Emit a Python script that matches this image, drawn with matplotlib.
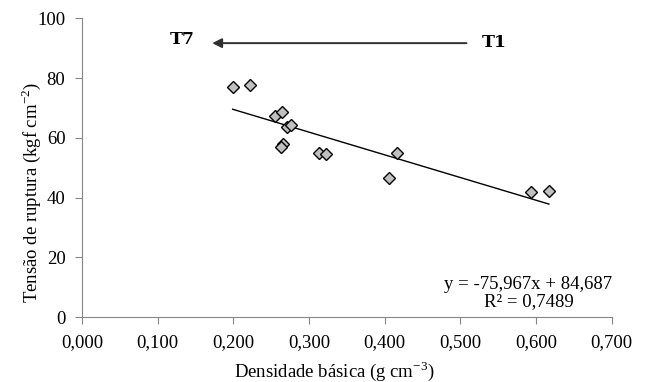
import numpy as np
import matplotlib
matplotlib.use("Agg")
import matplotlib.pyplot as plt

plt.rcParams["font.family"] = ["Liberation Serif", "DejaVu Serif"]
plt.rcParams["mathtext.fontset"] = "custom"
plt.rcParams["mathtext.rm"] = "Liberation Serif"

# Data
densidade = [0.199, 0.2215, 0.255, 0.264, 0.271, 0.2765, 0.2655, 0.263,
             0.3135, 0.322, 0.4165, 0.4055, 0.5927, 0.617]
tensao = [77.0, 77.8, 67.2, 68.5, 63.6, 64.4, 58.1, 57.0,
          54.9, 54.7, 54.9, 46.6, 41.7, 42.1]
slope, intercept = -75.967, 84.687
x_ticks = [0.0, 0.1, 0.2, 0.3, 0.4, 0.5, 0.6, 0.7]
y_ticks = [0, 20, 40, 60, 80, 100]

fig = plt.figure(figsize=(6.46, 3.82), dpi=100)
ax = fig.add_axes([0.127, 0.170, 0.820, 0.782])

ax.plot(densidade, tensao, linestyle="none", marker="D", markersize=6.2,
        markerfacecolor="#c0c0c0", markeredgecolor="black", markeredgewidth=1.0,
        zorder=3)

# linear trendline
xl = np.array([min(densidade), max(densidade)])
ax.plot(xl, slope * xl + intercept, color="black", linewidth=1.0, zorder=2)

ax.text(0.590, 8.0, "y = -75,967x + 84,687\nR² = 0,7489", fontsize=13.5,
        ha="center", va="center", linespacing=0.95)

# arrow T1 -> T7
ax.annotate("", xy=(0.172, 91.7), xytext=(0.508, 91.7),
            arrowprops=dict(arrowstyle="-|>", color="#303030", lw=1.4,
                            mutation_scale=14, shrinkA=0, shrinkB=0))
ax.text(0.132, 93.0, "T7", fontsize=12.5, fontweight="bold",
        family="DejaVu Serif", ha="center", va="center")
ax.text(0.545, 91.9, "T1", fontsize=12.5, fontweight="bold",
        family="DejaVu Serif", ha="center", va="center")

ax.set_xlim(0, 0.7)
ax.set_ylim(0, 100)
ax.set_xticks(x_ticks)
ax.set_xticklabels([f"{t:.3f}".replace(".", ",") for t in x_ticks])
ax.set_yticks(y_ticks)
ax.tick_params(axis="both", labelsize=13.5, color="#868686", length=5,
               direction="out", pad=7)
for side in ["top", "right"]:
    ax.spines[side].set_visible(False)
for side in ["left", "bottom"]:
    ax.spines[side].set_color("#868686")

fig.text(334 / 646, 1 - 371 / 382, "Densidade básica (g cm$^{-3}$)",
         fontsize=13.5, ha="center", va="center")
fig.text(31 / 646, 1 - 193 / 382, "Tensão de ruptura (kgf cm$^{-2}$)",
         fontsize=13.5, ha="center", va="center", rotation=90)

fig.savefig("out.png", dpi=100)
